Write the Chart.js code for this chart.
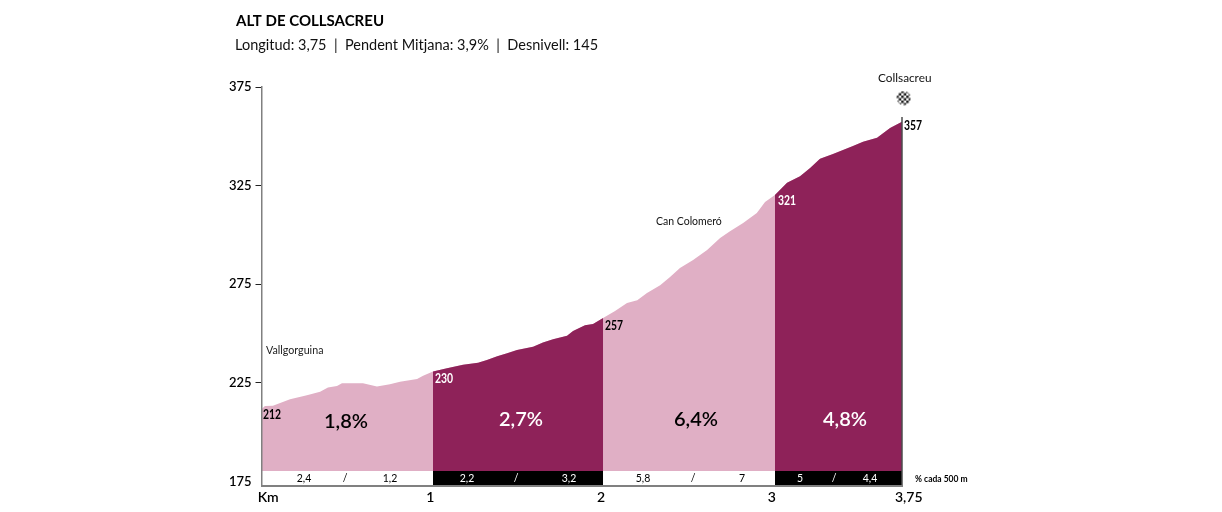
<!DOCTYPE html>
<html>
<head>
<meta charset="utf-8">
<title>Alt de Collsacreu</title>
<script src="https://cdn.jsdelivr.net/npm/chart.js@4"></script>
<style>
  html, body { margin: 0; padding: 0; background: #fff; }
  canvas { display: block; }
</style>
</head>
<body>
<canvas id="profile" width="1222" height="512"></canvas>
<script>
var chartTitle = 'ALT DE COLLSACREU';
var chartSubtitle = 'Longitud: 3,75  |  Pendent Mitjana: 3,9%  |  Desnivell: 145';

// profile, km and altitude (m)
var kmSeg1 = [0, 0.02, 0.067, 0.167, 0.266, 0.343, 0.389, 0.442, 0.471, 0.594, 0.676, 0.752, 0.811, 0.911, 0.946, 1.004];
var altSeg1 = [211.6, 213.2, 213.4, 216.7, 218.7, 220.4, 222.6, 223.3, 224.7, 224.7, 223.1, 224.3, 225.5, 226.9, 228.6, 230.7];
var kmSeg2 = [1.004, 1.086, 1.18, 1.268, 1.32, 1.38, 1.438, 1.496, 1.59, 1.648, 1.707, 1.748, 1.789, 1.824, 1.894, 1.941, 2];
var altSeg2 = [230.7, 232.4, 234.2, 235.2, 236.5, 238.5, 240, 241.6, 243.3, 245.4, 247.1, 248, 248.9, 251.2, 254.2, 254.8, 257.8];
var kmSeg3 = [2, 2.07, 2.14, 2.2, 2.257, 2.334, 2.392, 2.45, 2.527, 2.609, 2.685, 2.743, 2.82, 2.9, 2.948, 3.006];
var altSeg3 = [257.8, 261.4, 265.4, 266.9, 270.5, 274.5, 278.6, 283.2, 287.2, 292.3, 298.4, 301.9, 306, 311.1, 316.7, 320.2];
var kmSeg4 = [3.006, 3.077, 3.153, 3.212, 3.27, 3.346, 3.463, 3.522, 3.604, 3.68, 3.75];
var altSeg4 = [320.2, 326.4, 329.8, 333.9, 338.6, 341, 345.1, 347.2, 349.3, 354.2, 357.4];

var yTicks = [175, 225, 275, 325, 375];
var xTicks = [0, 1, 2, 3, 3.75];
var xTickLabels = ['     Km', '1', '2', '3', '     3,75'];

var FONT = 'Lato, "Noto Sans", sans-serif';
var LIGHT = '#e0afc5';
var DARK = '#8e2259';
var AXIS_MIN = 172.8;
var BAND_TOP = 180.2;

function xy(xs, ys) {
  return xs.map(function (x, i) { return { x: x, y: ys[i] }; });
}

function area(xs, ys, color) {
  return { data: xy(xs, ys), borderWidth: 0, pointRadius: 0, tension: 0, backgroundColor: color, fill: { value: BAND_TOP } };
}

function band(from, to, color) {
  return { data: [{ x: from, y: BAND_TOP }, { x: to, y: BAND_TOP }], borderWidth: 0, pointRadius: 0, backgroundColor: color, fill: 'start' };
}

// small checkered ball used as the point style of the summit mark
function flagImage() {
  var c = document.createElement('canvas');
  c.width = c.height = 15;
  var g = c.getContext('2d');
  g.beginPath();
  g.arc(7.5, 7.5, 7, 0, Math.PI * 2);
  g.clip();
  g.fillStyle = '#ffffff';
  g.fillRect(0, 0, 15, 15);
  g.fillStyle = '#1a1a1a';
  for (var i = 0; i < 6; i++) {
    for (var j = 0; j < 6; j++) {
      if ((i + j) % 2 === 0) g.fillRect(i * 2.5, j * 2.5, 2.5, 2.5);
    }
  }
  return c;
}

// text, x, y, font, colour, align, horizontal squeeze
var notes = [
  [chartTitle, 236, 21, 'bold 15px ' + FONT, '#000', 'left', 1],
  [chartSubtitle, 235, 45, '14.5px ' + FONT, '#111', 'left', 1],
  ['Vallgorguina', 266, 351, '10.7px ' + FONT, '#222', 'left', 1],
  ['Can Colomeró', 656, 222, '10.5px ' + FONT, '#111', 'left', 1],
  ['Collsacreu', 878, 78, '11.8px ' + FONT, '#111', 'left', 1],
  ['212', 263, 415, 'bold 13px ' + FONT, '#000', 'left', 0.8],
  ['230', 435, 379, 'bold 13px ' + FONT, '#fff', 'left', 0.8],
  ['257', 605, 326, 'bold 13px ' + FONT, '#000', 'left', 0.8],
  ['321', 778, 201, 'bold 13px ' + FONT, '#fff', 'left', 0.8],
  ['357', 904, 126, 'bold 13px ' + FONT, '#000', 'left', 0.8],
  ['1,8%', 346, 422, '600 20px ' + FONT, '#000', 'center', 1],
  ['2,7%', 521, 420, '600 20px ' + FONT, '#fff', 'center', 1],
  ['6,4%', 696, 420, '600 20px ' + FONT, '#000', 'center', 1],
  ['4,8%', 845, 420, '600 20px ' + FONT, '#fff', 'center', 1],
  ['2,4', 304, 479, '10.5px ' + FONT, '#000', 'center', 1],
  ['/', 345, 479, '10.5px ' + FONT, '#000', 'center', 1],
  ['1,2', 390, 479, '10.5px ' + FONT, '#000', 'center', 1],
  ['2,2', 467, 479, '10.5px ' + FONT, '#fff', 'center', 1],
  ['/', 516, 479, '10.5px ' + FONT, '#fff', 'center', 1],
  ['3,2', 569, 479, '10.5px ' + FONT, '#fff', 'center', 1],
  ['5,8', 643, 479, '10.5px ' + FONT, '#000', 'center', 1],
  ['/', 693, 479, '10.5px ' + FONT, '#000', 'center', 1],
  ['7', 742, 479, '10.5px ' + FONT, '#000', 'center', 1],
  ['5', 800, 479, '10.5px ' + FONT, '#fff', 'center', 1],
  ['/', 834, 479, '10.5px ' + FONT, '#fff', 'center', 1],
  ['4,4', 870, 479, '10.5px ' + FONT, '#fff', 'center', 1],
  ['% cada 500 m', 915, 479, 'bold 10px ' + FONT, '#000', 'left', 0.85]
];

var notesPlugin = {
  id: 'notes',
  afterDraw: function (chart) {
    var ctx = chart.ctx;
    notes.forEach(function (n) {
      ctx.save();
      ctx.textBaseline = 'middle';
      ctx.font = n[3];
      ctx.fillStyle = n[4];
      ctx.textAlign = n[5];
      ctx.translate(n[1], n[2]);
      ctx.scale(n[6], 1);
      ctx.fillText(n[0], 0, 0);
      ctx.restore();
    });
  }
};

new Chart(document.getElementById('profile').getContext('2d'), {
  type: 'line',
  data: {
    datasets: [
      { data: [{ x: 3.76, y: 369.4 }], showLine: false, pointStyle: flagImage(), pointRadius: 7, clip: false },
      { data: [{ x: 3.75, y: AXIS_MIN }, { x: 3.75, y: 359.8 }], borderColor: '#4d4d4d', borderWidth: 1.5, pointRadius: 0, clip: false },
      band(0, 1.004, '#ffffff'),
      band(1.004, 2, '#000000'),
      band(2, 3.006, '#ffffff'),
      band(3.006, 3.75, '#000000'),
      area(kmSeg2, altSeg2, DARK),
      area(kmSeg4, altSeg4, DARK),
      // the whole profile in the light colour, the dark stretches sit on top of it
      area(kmSeg1.concat(kmSeg2, kmSeg3, kmSeg4), altSeg1.concat(altSeg2, altSeg3, altSeg4), LIGHT)
    ]
  },
  options: {
    responsive: false,
    animation: false,
    events: [],
    layout: { padding: { left: 225, right: 320, top: 87, bottom: 0 } },
    plugins: {
      legend: { display: false },
      tooltip: { enabled: false }
    },
    scales: {
      x: {
        type: 'linear',
        min: 0,
        max: 3.75,
        afterBuildTicks: function (scale) {
          scale.ticks = xTicks.map(function (v) { return { value: v }; });
        },
        afterFit: function (scale) { scale.height = 26.3; },
        grid: { display: false, drawTicks: false },
        border: { color: '#808080', width: 2, z: 1 },
        ticks: {
          autoSkip: false,
          maxRotation: 0,
          padding: 3,
          labelOffset: -2,
          color: '#000',
          font: { family: FONT, size: 14, weight: '600' },
          callback: function (value, i) { return xTickLabels[i]; }
        }
      },
      y: {
        min: AXIS_MIN,
        max: 375,
        afterBuildTicks: function (scale) {
          scale.ticks = yTicks.map(function (v) { return { value: v }; });
        },
        afterFit: function (scale) { scale.width = 36.5; },
        grid: {
          drawOnChartArea: false,
          tickLength: 6,
          color: function (c) { return c.tick && c.tick.value === 175 ? 'rgba(0,0,0,0)' : '#222'; }
        },
        border: { color: '#808080', width: 1.5, z: 1 },
        ticks: {
          autoSkip: false,
          padding: 4,
          color: '#000',
          font: { family: FONT, size: 13, weight: '600' }
        }
      }
    }
  },
  plugins: [notesPlugin]
});
</script>
</body>
</html>
